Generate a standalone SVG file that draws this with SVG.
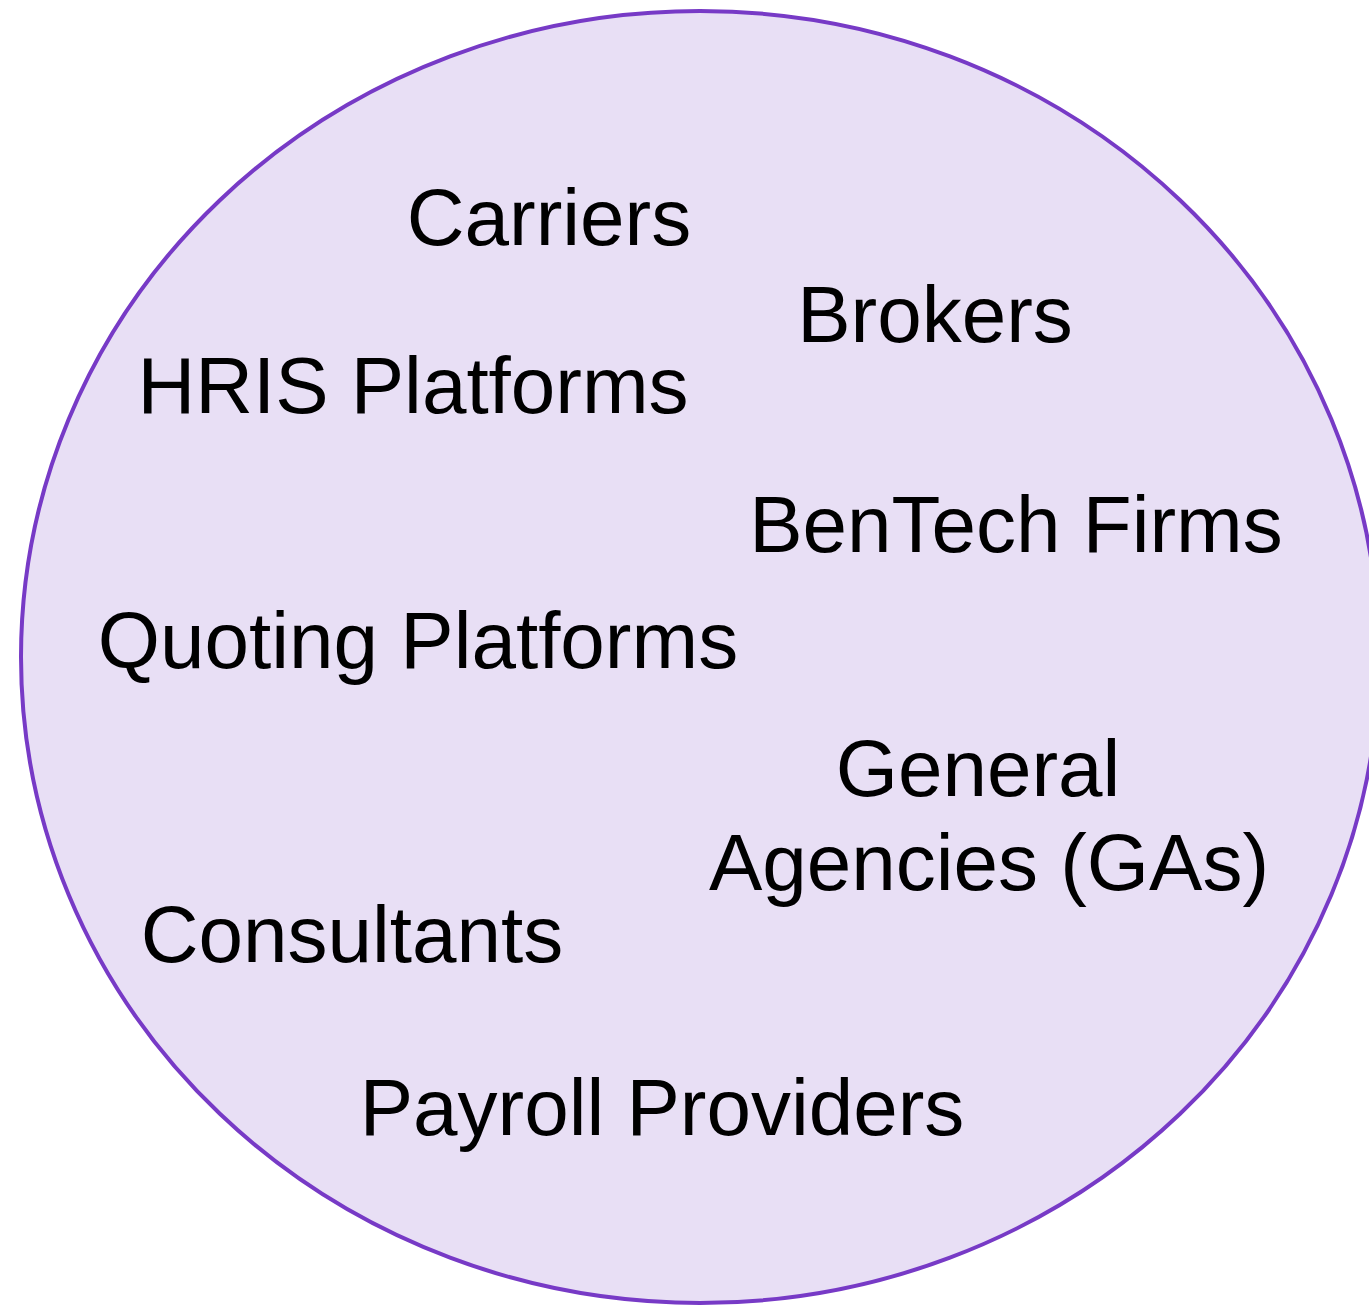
<svg xmlns="http://www.w3.org/2000/svg" width="1369" height="1308" viewBox="0 0 1369 1308">
  <style>
    .ring { fill: #e8dff5; stroke: #773ac6; stroke-width: 4; }
    .label { font-family: "Liberation Sans", Arial, sans-serif; font-size: 80px; fill: #000000; text-anchor: middle; }
  </style>
  <rect width="1369" height="1308" fill="#ffffff"/>
  <g id="ecosystem">
    <ellipse class="ring" cx="700" cy="657" rx="679" ry="646"/>
  </g>
  <g id="connectors"/>
  <g id="carriers"><text class="label" x="549" y="245">Carriers</text></g>
  <g id="brokers"><text class="label" x="935" y="342">Brokers</text></g>
  <g id="hris-platforms"><text class="label" x="413" y="413">HRIS Platforms</text></g>
  <g id="bentech-firms"><text class="label" x="1016" y="552">BenTech Firms</text></g>
  <g id="quoting-platforms"><text class="label" x="418" y="668">Quoting Platforms</text></g>
  <g id="general-agencies">
    <text class="label" x="989" y="796"><tspan x="978">General</tspan><tspan x="989" y="890">Agencies (GAs)</tspan></text>
  </g>
  <g id="consultants"><text class="label" x="352" y="962">Consultants</text></g>
  <g id="payroll-providers"><text class="label" x="662" y="1135">Payroll Providers</text></g>
</svg>
